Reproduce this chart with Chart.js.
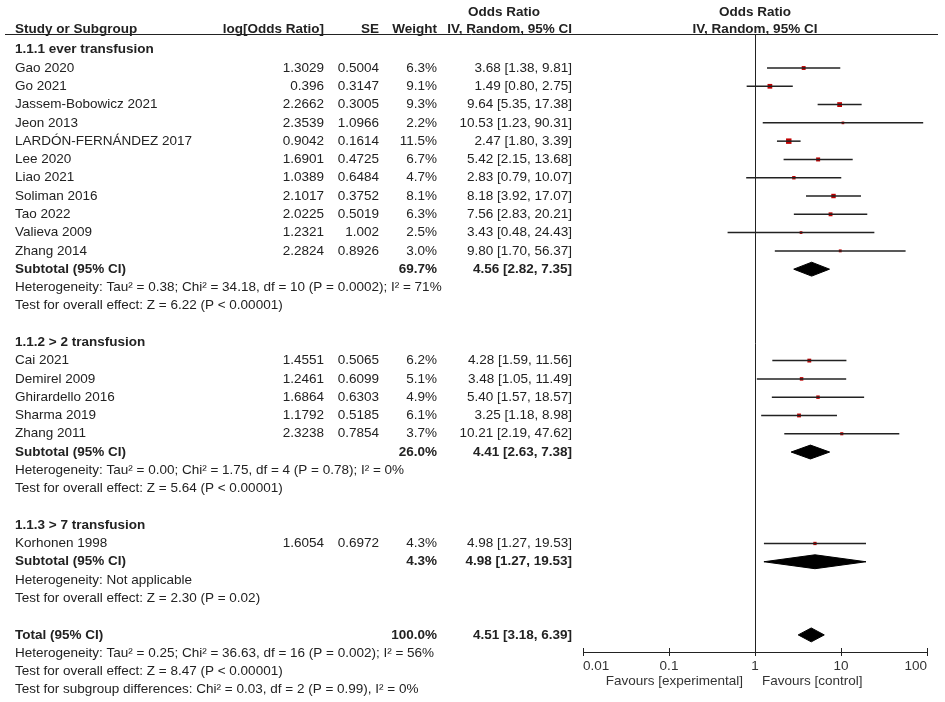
<!DOCTYPE html>
<html>
<head>
<meta charset="utf-8">
<script src="https://cdn.jsdelivr.net/npm/chart.js@4.4.1/dist/chart.umd.min.js"></script>
<style>
  html, body { margin: 0; padding: 0; background: #fff; }
  #wrap { width: 945px; height: 702px; position: relative; }
</style>
</head>
<body>
<div id="wrap"><canvas id="forest"></canvas></div>
<script>
// studies, in display order
const studies = [
  'Gao 2020', 'Go 2021', 'Jassem-Bobowicz 2021', 'Jeon 2013', 'LARDÓN-FERNÁNDEZ 2017',
  'Lee 2020', 'Liao 2021', 'Soliman 2016', 'Tao 2022', 'Valieva 2009', 'Zhang 2014',
  'Cai 2021', 'Demirel 2009', 'Ghirardello 2016', 'Sharma 2019', 'Zhang 2011',
  'Korhonen 1998',
]
const studyGroup = [0, 0, 0, 0, 0, 0, 0, 0, 0, 0, 0, 1, 1, 1, 1, 1, 2]
const logOR = [1.3029, 0.396, 2.2662, 2.3539, 0.9042, 1.6901, 1.0389, 2.1017, 2.0225, 1.2321, 2.2824,
  1.4551, 1.2461, 1.6864, 1.1792, 2.3238, 1.6054]
const se = [0.5004, 0.3147, 0.3005, 1.0966, 0.1614, 0.4725, 0.6484, 0.3752, 0.5019, 1.002, 0.8926,
  0.5065, 0.6099, 0.6303, 0.5185, 0.7854, 0.6972]
const weight = [6.3, 9.1, 9.3, 2.2, 11.5, 6.7, 4.7, 8.1, 6.3, 2.5, 3.0, 6.2, 5.1, 4.9, 6.1, 3.7, 4.3]
const orEst = [3.68, 1.49, 9.64, 10.53, 2.47, 5.42, 2.83, 8.18, 7.56, 3.43, 9.80, 4.28, 3.48, 5.40, 3.25, 10.21, 4.98]
const ciLow = [1.38, 0.80, 5.35, 1.23, 1.80, 2.15, 0.79, 3.92, 2.83, 0.48, 1.70, 1.59, 1.05, 1.57, 1.18, 2.19, 1.27]
const ciHigh = [9.81, 2.75, 17.38, 90.31, 3.39, 13.68, 10.07, 17.07, 20.21, 24.43, 56.37, 11.56, 11.49, 18.57, 8.98, 47.62, 19.53]

// subgroups
const groupTitles = ['1.1.1 ever transfusion', '1.1.2 > 2 transfusion', '1.1.3 > 7 transfusion']
const subWeight = [69.7, 26.0, 4.3]
const subEst = [4.56, 4.41, 4.98]
const subLow = [2.82, 2.63, 1.27]
const subHigh = [7.35, 7.38, 19.53]
const subHet = [
  'Heterogeneity: Tau² = 0.38; Chi² = 34.18, df = 10 (P = 0.0002); I² = 71%',
  'Heterogeneity: Tau² = 0.00; Chi² = 1.75, df = 4 (P = 0.78); I² = 0%',
  'Heterogeneity: Not applicable',
]
const subTest = [
  'Test for overall effect: Z = 6.22 (P < 0.00001)',
  'Test for overall effect: Z = 5.64 (P < 0.00001)',
  'Test for overall effect: Z = 2.30 (P = 0.02)',
]

// overall
const totalWeight = 100.0
const totalEst = 4.51
const totalLow = 3.18
const totalHigh = 6.39
const totalNotes = [
  'Heterogeneity: Tau² = 0.25; Chi² = 36.63, df = 16 (P = 0.002); I² = 56%',
  'Test for overall effect: Z = 8.47 (P < 0.00001)',
  'Test for subgroup differences: Chi² = 0.03, df = 2 (P = 0.99), I² = 0%',
]

const xTicks = [0.01, 0.1, 1, 10, 100]
const favours = ['Favours [experimental]', 'Favours [control]']

const FONT = '"Liberation Sans", Arial, sans-serif'
const FS = 13.5
const INK = '#222'
const COL = { name: 15, logor: 324, se: 379, weight: 437, ci: 572 }
const DH = 0.38 // half height of a diamond, in rows

const fmtCI = (e, l, h) => `${e.toFixed(2)} [${l.toFixed(2)}, ${h.toFixed(2)}]`

// lay the rows out
const textRows = []
const addText = (k, cells, bold) => textRows.push({ k, cells, bold: !!bold })
const studyRow = []
const subRow = []
let row = 1
groupTitles.forEach((title, g) => {
  addText(row++, [[COL.name, 'left', title]], true)
  studies.forEach((name, i) => {
    if (studyGroup[i] !== g) return
    studyRow[i] = row
    addText(row++, [
      [COL.name, 'left', name],
      [COL.logor, 'right', String(logOR[i])],
      [COL.se, 'right', String(se[i])],
      [COL.weight, 'right', weight[i].toFixed(1) + '%'],
      [COL.ci, 'right', fmtCI(orEst[i], ciLow[i], ciHigh[i])],
    ])
  })
  subRow[g] = row
  addText(row++, [
    [COL.name, 'left', 'Subtotal (95% CI)'],
    [COL.weight, 'right', subWeight[g].toFixed(1) + '%'],
    [COL.ci, 'right', fmtCI(subEst[g], subLow[g], subHigh[g])],
  ], true)
  addText(row++, [[COL.name, 'left', subHet[g]]])
  addText(row++, [[COL.name, 'left', subTest[g]]])
  row++
})
const totalRow = row
addText(row++, [
  [COL.name, 'left', 'Total (95% CI)'],
  [COL.weight, 'right', totalWeight.toFixed(1) + '%'],
  [COL.ci, 'right', fmtCI(totalEst, totalLow, totalHigh)],
], true)
totalNotes.forEach((t) => addText(row++, [[COL.name, 'left', t]]))

// datasets
const diamond = (e, l, h, r) => [
  { x: l, y: r }, { x: e, y: r - DH }, { x: h, y: r }, { x: e, y: r + DH }, { x: l, y: r },
]
const datasets = []
studies.forEach((name, i) => {
  datasets.push({
    data: [{ x: ciLow[i], y: studyRow[i] }, { x: ciHigh[i], y: studyRow[i] }],
    showLine: true,
    borderColor: INK,
    borderWidth: 1.5,
    pointRadius: 0,
  })
})
datasets.push({
  data: studies.map((name, i) => ({ x: orEst[i], y: studyRow[i] })),
  pointStyle: 'rect',
  pointRadius: weight.map((w) => (2 + 0.3 * w) / Math.SQRT2),
  backgroundColor: '#c00000',
  borderWidth: 0,
})
subEst.forEach((e, g) => {
  datasets.push({
    data: diamond(e, subLow[g], subHigh[g], subRow[g]),
    showLine: true,
    fill: 'shape',
    backgroundColor: '#000',
    borderColor: '#000',
    borderWidth: 1,
    pointRadius: 0,
  })
})
datasets.push({
  data: diamond(totalEst, totalLow, totalHigh, totalRow),
  showLine: true,
  fill: 'shape',
  backgroundColor: '#000',
  borderColor: '#000',
  borderWidth: 1,
  pointRadius: 0,
})

// y(k) = 27.6 + 18.4 k, chart area 0..652
const Y_MIN = -1.5
const Y_MAX = (652 - 27.6) / 18.4

const forestText = {
  id: 'forestText',
  beforeDatasetsDraw(chart) {
    const { ctx, scales: { x, y }, chartArea } = chart
    const x1 = Math.round(x.getPixelForValue(1)) + 0.5
    const top = Math.round(y.getPixelForValue(0) + 3) + 0.5
    ctx.save()
    ctx.strokeStyle = INK
    ctx.lineWidth = 1
    ctx.beginPath()
    ctx.moveTo(x1, top)
    ctx.lineTo(x1, chartArea.bottom)
    ctx.stroke()
    ctx.restore()
  },
  afterDraw(chart) {
    const { ctx, scales: { x, y }, chartArea } = chart
    ctx.save()
    ctx.strokeStyle = INK
    ctx.lineWidth = 1
    // header rule
    const top = Math.round(y.getPixelForValue(0) + 3) + 0.5
    ctx.beginPath()
    ctx.moveTo(5, top)
    ctx.lineTo(938, top)
    // upper half of the axis ticks
    xTicks.forEach((v) => {
      const px = Math.round(x.getPixelForValue(v)) + 0.5
      ctx.moveTo(px, chartArea.bottom - 4)
      ctx.lineTo(px, chartArea.bottom)
    })
    ctx.stroke()

    ctx.fillStyle = INK
    ctx.textBaseline = 'middle'
    const put = (px, py, align, text, bold) => {
      ctx.font = `${bold ? 'bold ' : ''}${FS}px ${FONT}`
      ctx.textAlign = align
      ctx.fillText(text, px, py)
    }
    // headers
    const h1 = y.getPixelForValue(-1) - 1
    const h0 = y.getPixelForValue(0) - 2
    put(504, h1, 'center', 'Odds Ratio', true)
    put(COL.name, h0, 'left', 'Study or Subgroup', true)
    put(COL.logor, h0, 'right', 'log[Odds Ratio]', true)
    put(COL.se, h0, 'right', 'SE', true)
    put(COL.weight, h0, 'right', 'Weight', true)
    put(COL.ci, h0, 'right', 'IV, Random, 95% CI', true)
    const xc = x.getPixelForValue(1)
    put(xc, h1, 'center', 'Odds Ratio', true)
    put(xc, h0, 'center', 'IV, Random, 95% CI', true)

    textRows.forEach((r) => {
      const py = y.getPixelForValue(r.k)
      r.cells.forEach(([px, align, text]) => put(px, py, align, text, r.bold))
    })

    ctx.fillStyle = '#333'
    put(xc - 12, chartArea.bottom + 29, 'right', favours[0], false)
    put(xc + 7, chartArea.bottom + 29, 'left', favours[1], false)
    ctx.restore()
  },
}

new Chart(document.querySelector('#forest'), {
  type: 'scatter',
  data: { datasets },
  plugins: [forestText],
  options: {
    responsive: true,
    maintainAspectRatio: false,
    animation: false,
    events: [],
    layout: { padding: { left: 583, right: 18, top: 0, bottom: 0 } },
    plugins: {
      legend: { display: false },
      tooltip: { enabled: false },
    },
    scales: {
      x: {
        type: 'logarithmic',
        min: 0.01,
        max: 100,
        position: 'bottom',
        afterBuildTicks: (s) => { s.ticks = xTicks.map((v) => ({ value: v })) },
        afterFit: (s) => { s.height = 50 },
        grid: { drawOnChartArea: false, drawTicks: true, tickLength: 4, color: INK, lineWidth: 1 },
        border: { display: true, color: INK, width: 1 },
        ticks: {
          align: 'inner',
          padding: 2,
          color: '#333',
          autoSkip: false,
          maxRotation: 0,
          font: { family: FONT, size: FS },
          callback: (v) => String(v),
        },
      },
      y: { type: 'linear', reverse: true, min: Y_MIN, max: Y_MAX, display: false },
    },
  },
})
</script>
</body>
</html>
